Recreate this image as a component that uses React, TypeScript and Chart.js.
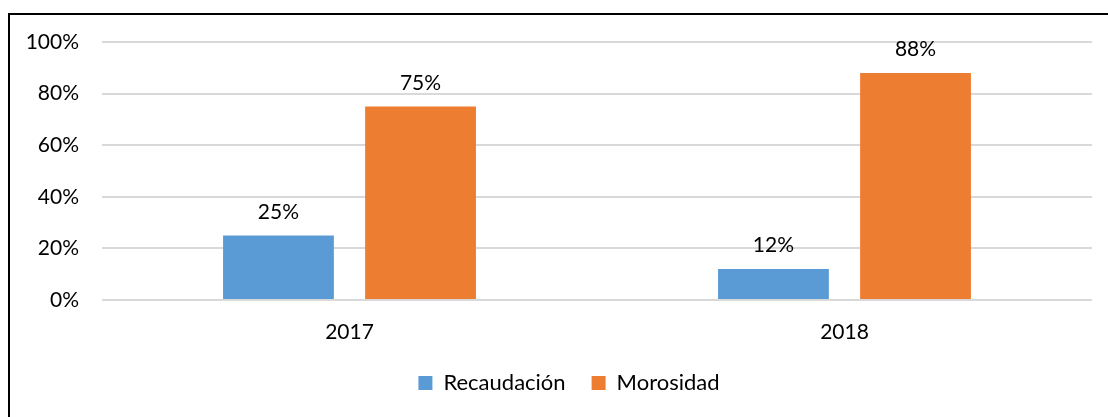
import React, { useEffect, useRef } from "react";
import { Chart, registerables } from "chart.js";

Chart.register(...registerables);

const categories = ["2017", "2018"];
const recaudacion = [25, 12];
const morosidad = [75, 88];
const yTicks = [0, 20, 40, 60, 80, 100];

const FONT = "Lato, 'Open Sans', sans-serif";

const dataLabels = {
  id: "dataLabels",
  afterDatasetsDraw(chart: any) {
    const ctx = chart.ctx;
    ctx.save();
    ctx.fillStyle = "#000";
    ctx.font = `21px ${FONT}`;
    ctx.textAlign = "center";
    ctx.textBaseline = "alphabetic";
    chart.data.datasets.forEach((ds: any, i: number) => {
      const meta = chart.getDatasetMeta(i);
      meta.data.forEach((bar: any, j: number) => {
        ctx.fillText(ds.data[j] + "%", bar.x, bar.y - 17);
      });
    });
    ctx.restore();
  },
};

// centre the legend under the plot area like the reference
const legendShift = {
  id: "legendShift",
  beforeDraw(chart: any) {
    if (chart.legend) {
      chart.legend.left = 46;
      chart.legend.right = 1092;
    }
  },
};

export default function App() {
  const ref = useRef<HTMLCanvasElement>(null);
  useEffect(() => {
    const chart = new Chart(ref.current!, {
      type: "bar",
      data: {
        labels: categories,
        datasets: [
          {
            label: "Recaudación",
            data: recaudacion,
            backgroundColor: "#5b9bd5",
            categoryPercentage: 0.574,
            barPercentage: 0.78,
          },
          {
            label: "Morosidad",
            data: morosidad,
            backgroundColor: "#ed7d31",
            categoryPercentage: 0.574,
            barPercentage: 0.78,
          },
        ],
      },
      options: {
        responsive: false,
        animation: false,
        layout: { padding: { top: 42, right: 16, left: 0, bottom: 22 } },
        scales: {
          x: {
            grid: { display: false, drawTicks: false },
            border: { display: false },
            ticks: { color: "#000", font: { family: FONT, size: 21 }, padding: 20 },
            afterFit: (s: any) => {
              s.height = 46;
            },
          },
          y: {
            min: 0,
            max: 100,
            afterBuildTicks: (s: any) => {
              s.ticks = yTicks.map((v) => ({ value: v }));
            },
            grid: { color: "#d9d9d9", lineWidth: 2, drawTicks: false },
            border: { display: false },
            ticks: {
              color: "#000",
              font: { family: FONT, size: 21 },
              padding: 23,
              callback: (v: any) => v + "%",
            },
            afterFit: (s: any) => {
              s.width = 102;
            },
          },
        },
        plugins: {
          legend: {
            position: "bottom",
            maxHeight: 49,
            labels: {
              color: "#000",
              font: { family: FONT, size: 22 },
              boxWidth: 14,
              boxHeight: 14,
              padding: 26,
            },
          },
          tooltip: { enabled: false },
        },
      },
      plugins: [dataLabels, legendShift],
    });
    return () => chart.destroy();
  }, []);

  return (
    <div
      style={{
        position: "fixed",
        left: 0,
        top: 0,
        width: 1108,
        height: 417,
        overflow: "hidden",
        background: "#fff",
      }}
    >
      <canvas ref={ref} width={1108} height={417} style={{ position: "absolute", left: 0, top: 0 }} />
      <div
        style={{
          position: "absolute",
          left: 8,
          top: 13,
          width: 1200,
          height: 500,
          borderLeft: "2px solid #000",
          borderTop: "2px solid #000",
          pointerEvents: "none",
        }}
      />
    </div>
  );
}
